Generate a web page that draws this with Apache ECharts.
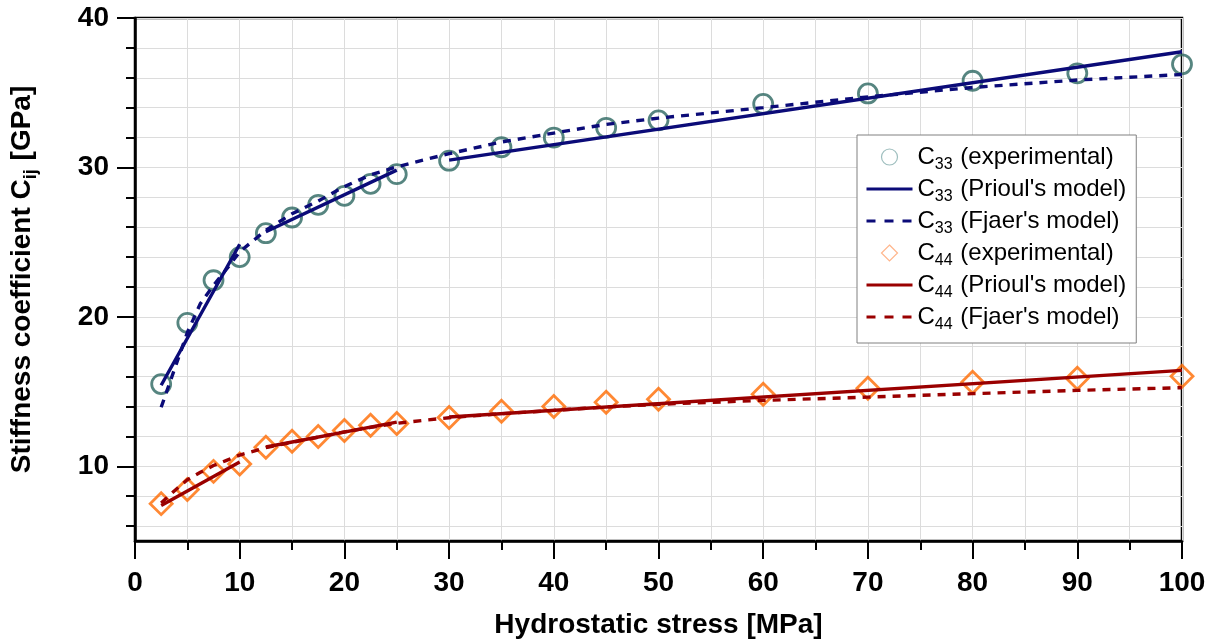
<!DOCTYPE html>
<html>
<head>
<meta charset="utf-8">
<script src="https://cdn.jsdelivr.net/npm/echarts@6/dist/echarts.min.js"></script>
<style>
  html, body { margin: 0; padding: 0; background: #fff; }
  #chart { width: 1207px; height: 641px; }
</style>
</head>
<body>
<div id="chart"></div>
<script>
// Hydrostatic stress levels [MPa] at which the stiffness was measured
const stress = [2.5, 5, 7.5, 10, 12.5, 15, 17.5, 20, 22.5, 25, 30, 35, 40, 45, 50, 60, 70, 80, 90, 100];

// Measured stiffness coefficients [GPa]
const c33Exp = [15.5, 19.6, 22.45, 24.0, 25.6, 26.65, 27.5, 28.1, 28.9, 29.55, 30.45, 31.35, 32.0, 32.65, 33.15, 34.25, 34.95, 35.8, 36.3, 36.9];
const c44Exp = [7.5, 8.45, 9.66, 10.15, 11.27, 11.67, 12.0, 12.4, 12.74, 12.87, 13.27, 13.68, 14.0, 14.28, 14.48, 14.82, 15.22, 15.62, 15.89, 16.02];

// Prioul's model: three fitted stress ranges, each as [stress, C] end points
const c33PrioulLow  = [[2.5, 15.42], [10, 24.86]];
const c33PrioulMid  = [[12.5, 25.69], [25, 29.82]];
const c33PrioulHigh = [[30, 30.49], [100, 37.74]];
const c44PrioulLow  = [[2.5, 7.38], [10, 10.28]];
const c44PrioulMid  = [[12.5, 11.29], [25, 12.96]];
const c44PrioulHigh = [[30, 13.3], [100, 16.42]];

// Fjaer's model curves
const fjaerStress = [2.5, 3.75, 5, 6.25, 7.5, 8.75, 10, 12.5, 15, 17.5, 20, 22.5, 25, 27.5, 30, 35, 40, 45, 50, 60, 70, 80, 90, 100];
const c33Fjaer = [13.95, 16.45, 18.95, 20.9, 22.1, 23.2, 24.35, 25.8, 26.9, 27.75, 28.72, 29.5, 30.04, 30.49, 30.92, 31.7, 32.3, 32.88, 33.3, 34.0, 34.72, 35.35, 35.85, 36.22];
const c44Fjaer = [7.55, 8.35, 9.1, 9.6, 10.05, 10.4, 10.75, 11.25, 11.6, 11.95, 12.3, 12.6, 12.88, 13.07, 13.25, 13.52, 13.74, 13.97, 14.15, 14.41, 14.63, 14.86, 15.08, 15.26];

// Axis ticks and labels
const xLabelValues = [0, 10, 20, 30, 40, 50, 60, 70, 80, 90, 100];
const yLabelValues = [10, 20, 30, 40];
const yMinorValues = [6, 8, 10, 12, 14, 16, 18, 20, 22, 24, 26, 28, 30, 32, 34, 36, 38, 40];

const FONT = '"Liberation Sans", Arial, Helvetica, sans-serif';
const NAVY = '#0b0b78';
const DARKRED = '#9a0000';
const TEAL = '#2c6660';
const ORANGE = '#ff6a00';
const GRID = '#dcdcdc';
const DASH = [8, 7];
const LINE_W = 3.4;

function pairs(xs, ys) { return xs.map((x, i) => [x, ys[i]]); }
// join separate ranges into one polyline broken by gaps
function segments(...parts) {
  const out = [];
  parts.forEach((p, i) => {
    if (i > 0) out.push([(out[out.length - 1][0] + p[0][0]) / 2, null]);
    p.forEach(pt => out.push(pt));
  });
  return out;
}

const legendRich = {
  n: { fontFamily: FONT, fontSize: 24, color: '#000' },
  s: { fontFamily: FONT, fontSize: 16, color: '#000', padding: [16, 1, 0, 0] }
};
function legendText(name) {
  const m = name.match(/^C(\d\d)(.*)$/);
  return '{n|C}{s|' + m[1] + '}{n|' + m[2] + '}';
}
// line entries show the stroke only
const noMarker = { color: 'none', borderWidth: 0, opacity: 0 };
const solidKey = { width: 3, type: 'solid' };
const dashKey = { width: 3, type: [9, 9] };

const chart = echarts.init(document.getElementById('chart'), null, { renderer: 'canvas' });

chart.setOption({
  animation: false,
  backgroundColor: '#fff',
  grid: {
    left: 135, right: 25, top: 18, bottom: 100,
    outerBoundsMode: 'none', containLabel: false,
    show: true, borderColor: '#000', borderWidth: 2.5, backgroundColor: 'transparent'
  },
  legend: {
    orient: 'vertical',
    left: 857, top: 135,
    padding: [10, 10, 10, 8],
    itemGap: 4,
    itemWidth: 46, itemHeight: 16,
    symbolKeepAspect: true,
    backgroundColor: '#fff',
    borderColor: '#808080', borderWidth: 1,
    formatter: legendText,
    textStyle: { rich: legendRich },
    data: [
      { name: 'C33 (experimental)', icon: 'circle', itemStyle: { color: 'none', borderColor: '#86aeae', borderWidth: 1.2 } },
      { name: "C33 (Prioul's model)", itemStyle: noMarker, lineStyle: solidKey },
      { name: "C33 (Fjaer's model)", itemStyle: noMarker, lineStyle: dashKey },
      { name: 'C44 (experimental)', icon: 'path://M8,0L16,8L8,16L0,8Z', itemStyle: { color: 'none', borderColor: '#ffa36e', borderWidth: 1.2 } },
      { name: "C44 (Prioul's model)", itemStyle: noMarker, lineStyle: solidKey },
      { name: "C44 (Fjaer's model)", itemStyle: noMarker, lineStyle: dashKey }
    ]
  },
  xAxis: {
    type: 'value', min: 0, max: 100, interval: 10,
    name: 'Hydrostatic stress [MPa]',
    nameLocation: 'middle', nameGap: 70,
    nameTextStyle: { fontFamily: FONT, fontSize: 28, fontWeight: 'bold', color: '#000' },
    axisLine: { show: true, onZero: false, lineStyle: { color: '#000', width: 2.5 } },
    axisTick: { show: true, inside: false, length: 18, lineStyle: { color: '#000', width: 2 } },
    minorTick: { show: true, splitNumber: 2, length: 9, lineStyle: { color: '#000', width: 2 } },
    axisLabel: {
      customValues: xLabelValues, margin: 28,
      fontFamily: FONT, fontSize: 28, fontWeight: 'bold', color: '#000'
    },
    splitLine: { show: true, lineStyle: { color: GRID, width: 1 } },
    minorSplitLine: { show: true, lineStyle: { color: GRID, width: 1 } }
  },
  yAxis: [
    {
      // data axis: fine ticks and grid every 2 GPa
      type: 'value', min: 5, max: 40, position: 'left', offset: 0,
      name: '{t|Stiffness coefficient C}{s|ij}{t| [GPa]}',
      nameLocation: 'middle', nameRotate: 90, nameGap: 95,
      nameTextStyle: {
        rich: {
          t: { fontFamily: FONT, fontSize: 28, fontWeight: 'bold', color: '#000' },
          s: { fontFamily: FONT, fontSize: 18, fontWeight: 'bold', color: '#000', padding: [18, 1, 0, 0] }
        }
      },
      axisLine: { show: true, onZero: false, lineStyle: { color: '#000', width: 2.5 } },
      axisTick: { show: true, inside: false, customValues: yMinorValues, length: 9, lineStyle: { color: '#000', width: 2 } },
      axisLabel: { show: false },
      splitLine: { show: true, lineStyle: { color: GRID, width: 1 } }
    },
    {
      // labelled major ticks every 10 GPa
      type: 'value', min: 5, max: 40, position: 'left', offset: 0,
      axisLine: { show: false, onZero: false },
      axisTick: { show: true, inside: false, customValues: yLabelValues, length: 18, lineStyle: { color: '#000', width: 2 } },
      axisLabel: {
        customValues: yLabelValues, margin: 26,
        fontFamily: FONT, fontSize: 28, fontWeight: 'bold', color: '#000'
      },
      splitLine: { show: false }
    }
  ],
  series: [
    {
      name: 'C33 (experimental)', type: 'scatter', z: 2, clip: false,
      symbol: 'circle', symbolSize: 19,
      itemStyle: { color: 'none', borderColor: TEAL, borderWidth: 2.8 },
      data: pairs(stress, c33Exp)
    },
    {
      name: "C33 (Prioul's model)", type: 'line', z: 3, symbol: 'none', connectNulls: false,
      lineStyle: { color: NAVY, width: LINE_W }, itemStyle: { color: NAVY },
      data: segments(c33PrioulLow, c33PrioulMid, c33PrioulHigh)
    },
    {
      name: "C33 (Fjaer's model)", type: 'line', z: 3, symbol: 'none',
      lineStyle: { color: NAVY, width: LINE_W, type: DASH }, itemStyle: { color: NAVY },
      data: pairs(fjaerStress, c33Fjaer)
    },
    {
      name: 'C44 (experimental)', type: 'scatter', z: 2, clip: false,
      symbol: 'diamond', symbolSize: 22,
      itemStyle: { color: 'none', borderColor: ORANGE, borderWidth: 2.8 },
      data: pairs(stress, c44Exp)
    },
    {
      name: "C44 (Prioul's model)", type: 'line', z: 3, symbol: 'none', connectNulls: false,
      lineStyle: { color: DARKRED, width: LINE_W }, itemStyle: { color: DARKRED },
      data: segments(c44PrioulLow, c44PrioulMid, c44PrioulHigh)
    },
    {
      name: "C44 (Fjaer's model)", type: 'line', z: 3, symbol: 'none',
      lineStyle: { color: DARKRED, width: LINE_W, type: DASH }, itemStyle: { color: DARKRED },
      data: pairs(fjaerStress, c44Fjaer)
    }
  ]
});
</script>
</body>
</html>
